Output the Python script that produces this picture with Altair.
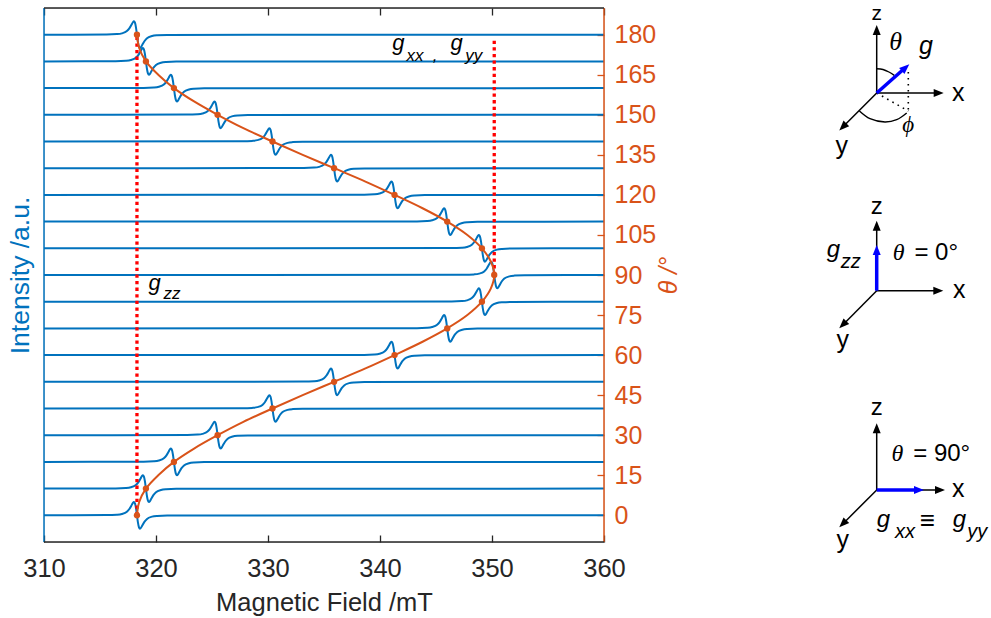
import altair as alt
import pandas as pd

BLUE = "#0072BD"
ORANGE = "#D95319"
RED = "#FF0000"
DARK = "#262626"
FONT = "Liberation Sans"
SERIF = "Liberation Serif"

# ---------------- main plot data ----------------
THETA = [0, 10, 20, 30, 40, 50, 60, 70, 80, 90, 100, 110, 120, 130, 140, 150, 160, 170, 180]
CENTER_FIELD = [318.3, 319.1, 321.6, 325.5, 330.4, 335.9, 341.3, 346.0, 349.1, 350.2,
                349.1, 346.0, 341.3, 335.9, 330.4, 325.5, 321.6, 319.1, 318.3]
# derivative line shape: offset from resonance (mT) and deflection (in deg units)
LINE_OFFSET = [-2.7, -1.8, -1.35, -0.9, -0.68, -0.45, -0.36, -0.27, -0.18, -0.09, 0.0,
               0.09, 0.18, 0.27, 0.36, 0.45, 0.68, 0.9, 1.35, 1.8, 2.7]
LINE_DEFLECTION = [0.07, 0.23, 0.51, 1.34, 2.35, 4.0, 4.67, 5.0, 4.5, 2.76, 0.0,
                   -2.76, -4.5, -5.0, -4.67, -4.0, -2.35, -1.34, -0.51, -0.23, -0.07]
CURVE_THETA = [0, 5, 10, 15, 20, 25, 30, 35, 40, 45, 50, 55, 60, 65, 70, 75, 80, 85, 90,
               95, 100, 105, 110, 115, 120, 125, 130, 135, 140, 145, 150, 155, 160, 165, 170, 175, 180]
CURVE_FIELD = [318.3, 318.5, 319.1, 320.2, 321.6, 323.4, 325.5, 327.8, 330.4, 333.1, 335.9, 338.7,
               341.3, 343.8, 346.0, 347.8, 349.1, 349.9, 350.2, 349.9, 349.1, 347.8, 346.0, 343.8,
               341.3, 338.7, 335.9, 333.1, 330.4, 327.8, 325.5, 323.4, 321.6, 320.2, 319.1, 318.5, 318.3]
REF_FIELD = [318.3, 350.2]
REF_FROM = [0, 90]
REF_TO = [180, 178]
FIELD_TICKS = [310, 320, 330, 340, 350, 360]
THETA_TICKS = [0, 15, 30, 45, 60, 75, 90, 105, 120, 135, 150, 165, 180]
FIELD_RANGE = [310, 360]
THETA_RANGE = [-10, 190]

LABEL_TEXT = ["g", "xx", ",", "g", "yy", "g", "zz"]
LABEL_FIELD = [341.63, 343.13, 344.91, 346.85, 348.37, 319.87, 321.43]
LABEL_THETA = [174.4, 170.0, 170.0, 174.4, 170.0, 84.4, 81.0]
LABEL_SIZE = [22, 17, 17, 22, 17, 22, 17]

# ---------------- coordinate-system sketches (diagram units) ----------------
AX_X0 = [0, 0, 0, 0, 0, 0, 0, 0, 0]
AX_Y0 = [-7, -7, -7, -204.7, -204.7, -204.7, -404, -404, -404]
AX_X1 = [0, 58, -31, 0, 58, -31, 0, 60, -31]
AX_Y1 = [52, -7, -38, -143.5, -204.7, -236, -346, -404, -435]
AX_TIPX = [0, 67, -37.4, 0, 66.6, -37.4, 0, 68.3, -37.4]
AX_TIPY = [61, -7, -44.4, -134.7, -204.7, -242.3, -337.3, -404, -441.3]
AX_ANGLE = [0, 90, 225, 0, 90, 225, 0, 90, 225]

VEC_X0 = [0, 0, 0]
VEC_Y0 = [-7, -204.7, -404]
VEC_X1 = [26, 0, 39.5]
VEC_Y1 = [16, -167, -404]
VEC_TIPX = [32.6, 0, 47.3]
VEC_TIPY = [21.7, -159, -404]
VEC_ANGLE = [48.6, 0, 90]

DOT_X0 = [0, 31.6]
DOT_Y0 = [-7, 14]
DOT_X1 = [31.6, 31.6]
DOT_Y1 = [-25, -26]

THETA_ARC_X = [0, 6.3, 12.2, 17.6]
THETA_ARC_Y = [17.3, 16.5, 14.0, 10.7]
PHI_ARC_X = [-17.3, -6.7, 8.3, 20.0, 30.0]
PHI_ARC_Y = [-25.0, -32.7, -36.0, -33.7, -27.0]

SANS_TEXT = ["z", "x", "y", "z", "x", "y", "= 0°", "z", "x", "y", "= 90°", "≡"]
SANS_X = [0, 81.6, -35, 0, 82.6, -34, 59.5, 0, 81.6, -34, 65.0, 50.6]
SANS_Y = [66, -15, -67.7, -128, -212.3, -262.3, -174, -329, -410.7, -462.3, -374.7, -443.3]
SANS_SIZE = [21, 25, 25, 24, 25, 25, 24, 24, 25, 25, 24, 26]

ITAL_TEXT = ["g", "g", "zz", "g", "xx", "g", "yy"]
ITAL_X = [49.3, -43.4, -26, 6.6, 28.3, 82.6, 100.6]
ITAL_Y = [32.3, -170.7, -182.3, -440.7, -452.3, -440.7, -452.3]
ITAL_SIZE = [25, 24, 20, 24, 20, 24, 20]

GREEK_TEXT = ["θ", "ϕ", "θ", "θ"]
GREEK_X = [19, 31.6, 22.0, 20.8]
GREEK_Y = [35.7, -46, -174, -374.7]
GREEK_SIZE = [26, 23, 24, 24]

DIAG_X_RANGE = [-832.7, -272.7]
DIAG_Y_RANGE = [-456, 78]

# ---------------- build tables ----------------
rows = []
for t, c in zip(THETA, CENTER_FIELD):
    rows.append({"trace": t, "B": FIELD_RANGE[0], "v": t})
    for o, d in zip(LINE_OFFSET, LINE_DEFLECTION):
        rows.append({"trace": t, "B": c + o, "v": t + d})
    rows.append({"trace": t, "B": FIELD_RANGE[1], "v": t})
traces = pd.DataFrame(rows)
curve = pd.DataFrame({"B": CURVE_FIELD, "t": CURVE_THETA})
pts = pd.DataFrame({"B": CENTER_FIELD, "t": THETA})
refs = pd.DataFrame({"B": REF_FIELD, "a": REF_FROM, "b": REF_TO})
labels = pd.DataFrame({"txt": LABEL_TEXT, "B": LABEL_FIELD, "t": LABEL_THETA, "s": LABEL_SIZE})

XS = alt.Scale(domain=FIELD_RANGE, nice=False, zero=False)
YS = alt.Scale(domain=THETA_RANGE, nice=False, zero=False)
DX = alt.Scale(domain=DIAG_X_RANGE, nice=False, zero=False)
DY = alt.Scale(domain=DIAG_Y_RANGE, nice=False, zero=False)

bottom_axis = alt.Axis(orient="bottom", values=FIELD_TICKS, offset=-7, tickSize=7, tickWidth=1.3,
                       tickColor=DARK, domain=False, grid=False, labelFont=FONT, labelFontSize=25.5,
                       labelColor=DARK, labelPadding=14, labelFlush=False, labelOverlap=False,
                       title="Magnetic Field /mT", titleFont=FONT, titleFontSize=25.5,
                       titleFontWeight="normal", titleColor=DARK, titleY=55, titleBaseline="top")
top_axis = alt.Axis(orient="top", values=FIELD_TICKS, offset=-7, tickSize=7, tickWidth=1.3,
                    tickColor=DARK, domain=False, grid=False, labels=False, title=None)
right_axis = alt.Axis(orient="right", values=THETA_TICKS, offset=-7, tickSize=7, tickWidth=1.3,
                      tickColor=ORANGE, domain=False, grid=False, labelFont=FONT, labelFontSize=25,
                      labelColor=ORANGE, labelPadding=10, labelOverlap=False,
                      title="θ /°", titleFont=FONT, titleFontSize=25, titleFontWeight="normal",
                      titleFontStyle="italic", titleColor=ORANGE, titleAngle=270, titleX=71,
                      titleBaseline="middle")
left_axis = alt.Axis(orient="left", ticks=False, labels=False, domain=False, grid=False,
                     title="Intensity /a.u.", titleFont=FONT, titleFontSize=26.5,
                     titleFontWeight="normal", titleColor=BLUE, titleAngle=270, titleX=-24,
                     titleBaseline="middle")

trace_layer = alt.Chart(traces).mark_line(color=BLUE, strokeWidth=2, interpolate="monotone").encode(
    x=alt.X("B:Q", scale=XS, axis=bottom_axis),
    y=alt.Y("v:Q", scale=YS, axis=right_axis),
    detail="trace:N",
)
ref_layer = alt.Chart(refs).mark_rule(color=RED, strokeWidth=3.3, strokeDash=[3.3, 3.3]).encode(
    x=alt.X("B:Q", scale=XS, axis=top_axis),
    y=alt.Y("a:Q", scale=YS, axis=left_axis),
    y2="b:Q",
)
curve_layer = alt.Chart(curve).mark_line(color=ORANGE, strokeWidth=2, interpolate="catmull-rom").encode(
    x=alt.X("B:Q", scale=XS, axis=None),
    y=alt.Y("t:Q", scale=YS, axis=None),
    order="t:Q",
)
pt_layer = alt.Chart(pts).mark_circle(color=ORANGE, size=40, opacity=1).encode(
    x=alt.X("B:Q", scale=XS, axis=None),
    y=alt.Y("t:Q", scale=YS, axis=None),
)
label_layer = alt.Chart(labels).mark_text(font=FONT, fontStyle="italic", color="black",
                                          baseline="alphabetic", align="center").encode(
    x=alt.X("B:Q", scale=XS, axis=None),
    y=alt.Y("t:Q", scale=YS, axis=None),
    text="txt:N",
    size=alt.Size("s:Q", scale=None),
)


def frame_v(val, color):
    return alt.Chart(pd.DataFrame({"B": [val]})).mark_rule(color=color, strokeWidth=1.5).encode(
        x=alt.X("B:Q", scale=XS, axis=None))


def frame_h(val, color):
    return alt.Chart(pd.DataFrame({"v": [val]})).mark_rule(color=color, strokeWidth=1.5).encode(
        y=alt.Y("v:Q", scale=YS, axis=None))


frames = [frame_v(FIELD_RANGE[0], BLUE), frame_v(FIELD_RANGE[1], ORANGE),
          frame_h(THETA_RANGE[0], DARK), frame_h(THETA_RANGE[1], DARK)]

# ---------------- sketches ----------------
axes_df = pd.DataFrame({"x0": AX_X0, "y0": AX_Y0, "x1": AX_X1, "y1": AX_Y1,
                        "tx": AX_TIPX, "ty": AX_TIPY, "ang": AX_ANGLE})
vec_df = pd.DataFrame({"x0": VEC_X0, "y0": VEC_Y0, "x1": VEC_X1, "y1": VEC_Y1,
                       "tx": VEC_TIPX, "ty": VEC_TIPY, "ang": VEC_ANGLE})
dot_df = pd.DataFrame({"x0": DOT_X0, "y0": DOT_Y0, "x1": DOT_X1, "y1": DOT_Y1})
arc_df = pd.DataFrame({
    "x": THETA_ARC_X + PHI_ARC_X,
    "y": THETA_ARC_Y + PHI_ARC_Y,
    "arc": ["theta"] * len(THETA_ARC_X) + ["phi"] * len(PHI_ARC_X),
    "i": list(range(len(THETA_ARC_X))) + list(range(len(PHI_ARC_X))),
})
HEAD = "M0,0L-0.8,2L0.8,2Z"


def seg(df, **mark):
    return alt.Chart(df).mark_rule(**mark).encode(
        x=alt.X("x0:Q", scale=DX, axis=None), y=alt.Y("y0:Q", scale=DY, axis=None),
        x2="x1:Q", y2="y1:Q")


def heads(df, color, size):
    return alt.Chart(df).mark_point(shape=HEAD, filled=True, color=color, size=size,
                                    opacity=1, strokeWidth=0).encode(
        x=alt.X("tx:Q", scale=DX, axis=None), y=alt.Y("ty:Q", scale=DY, axis=None),
        angle=alt.Angle("ang:Q", scale=None))


def texts(txt, xs, ys, ss, font, style):
    df = pd.DataFrame({"txt": txt, "x": xs, "y": ys, "s": ss})
    return alt.Chart(df).mark_text(font=font, fontStyle=style, color="black",
                                   baseline="alphabetic", align="center").encode(
        x=alt.X("x:Q", scale=DX, axis=None), y=alt.Y("y:Q", scale=DY, axis=None),
        text="txt:N", size=alt.Size("s:Q", scale=None))


sketch = [
    seg(dot_df, color="black", strokeWidth=1.6, strokeDash=[1.6, 4.4]),
    alt.Chart(arc_df).mark_line(color="black", strokeWidth=1.4, interpolate="catmull-rom").encode(
        x=alt.X("x:Q", scale=DX, axis=None), y=alt.Y("y:Q", scale=DY, axis=None),
        detail="arc:N", order="i:Q"),
    seg(axes_df, color="black", strokeWidth=1.5),
    heads(axes_df, "black", 100),
    seg(vec_df, color="#0000FF", strokeWidth=3.5),
    heads(vec_df, "#0000FF", 100),
    texts(SANS_TEXT, SANS_X, SANS_Y, SANS_SIZE, FONT, "normal"),
    texts(ITAL_TEXT, ITAL_X, ITAL_Y, ITAL_SIZE, FONT, "italic"),
    texts(GREEK_TEXT, GREEK_X, GREEK_Y, GREEK_SIZE, SERIF, "italic"),
]

chart = alt.layer(
    trace_layer, ref_layer, curve_layer, pt_layer, label_layer, *frames, *sketch
).resolve_scale(x="independent", y="independent").resolve_axis(
    x="independent", y="independent"
).properties(
    width=560, height=534,
    autosize=alt.AutoSizeParams(type="none"),
    padding={"left": 44, "top": 8, "right": 387, "bottom": 76},
).configure_view(stroke=None).configure(background="white")

chart.save("out.html", embed_options={"renderer": "svg", "actions": False})
